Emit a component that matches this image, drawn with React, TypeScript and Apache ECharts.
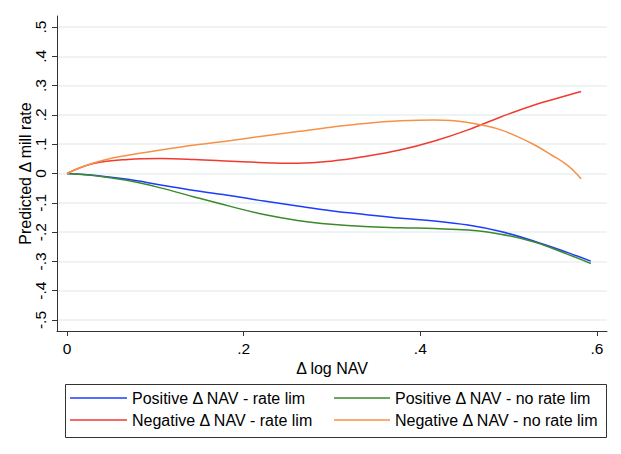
import React, { useEffect, useRef } from "react";
import * as echarts from "echarts";

// Predicted change in mill rate against change in log NAV
const posRateLimX = [0, 0.03, 0.069, 0.106, 0.144, 0.186, 0.223, 0.261, 0.299, 0.337, 0.378, 0.416, 0.454, 0.491, 0.529, 0.567, 0.593];
const posRateLimY = [0, -0.006, -0.02, -0.039, -0.058, -0.076, -0.094, -0.111, -0.127, -0.14, -0.153, -0.162, -0.176, -0.198, -0.231, -0.27, -0.299];

const posNoLimX = [0, 0.03, 0.069, 0.106, 0.144, 0.186, 0.223, 0.261, 0.299, 0.337, 0.378, 0.416, 0.454, 0.491, 0.529, 0.567, 0.593];
const posNoLimY = [0, -0.007, -0.024, -0.049, -0.08, -0.113, -0.14, -0.16, -0.173, -0.181, -0.185, -0.188, -0.193, -0.207, -0.234, -0.276, -0.307];

const negRateLimX = [0, 0.03, 0.069, 0.106, 0.144, 0.186, 0.223, 0.261, 0.299, 0.337, 0.378, 0.416, 0.454, 0.491, 0.529, 0.567, 0.582];
const negRateLimY = [0, 0.034, 0.048, 0.051, 0.048, 0.042, 0.037, 0.035, 0.042, 0.058, 0.081, 0.111, 0.149, 0.193, 0.234, 0.267, 0.28];

const negNoLimX = [0, 0.03, 0.069, 0.106, 0.144, 0.186, 0.223, 0.261, 0.299, 0.337, 0.378, 0.416, 0.435, 0.454, 0.472, 0.491, 0.51, 0.529, 0.548, 0.567, 0.582];
const negNoLimY = [0, 0.036, 0.0625, 0.08, 0.097, 0.113, 0.128, 0.143, 0.158, 0.171, 0.18, 0.183, 0.181, 0.174, 0.164, 0.149, 0.126, 0.098, 0.064, 0.027, -0.018];

const seriesNames = [
  "Positive Δ NAV - rate lim",
  "Positive Δ NAV - no rate lim",
  "Negative Δ NAV - rate lim",
  "Negative Δ NAV - no rate lim",
];
const seriesColors = ["#1c3cff", "#3a8a2c", "#f03a30", "#f5924a"];

const xTicks = [0, 0.2, 0.4, 0.6];
const yTicks = [-0.5, -0.4, -0.3, -0.2, -0.1, 0, 0.1, 0.2, 0.3, 0.4, 0.5];

const FONT = "'Liberation Sans', Arial, Helvetica, sans-serif";

const zip = (xs: number[], ys: number[]) => xs.map((x, i) => [x, ys[i]]);

// Stata-style labels: drop the leading zero
const fmt = (v: number) => {
  const r = Math.round(v * 10) / 10;
  if (r === 0) return "0";
  return String(r).replace("0.", ".");
};

export default function App() {
  const ref = useRef<HTMLDivElement>(null);

  useEffect(() => {
    if (!ref.current) return;
    const chart = echarts.init(ref.current, null, { renderer: "svg" });
    const data = [
      zip(posRateLimX, posRateLimY),
      zip(posNoLimX, posNoLimY),
      zip(negRateLimX, negRateLimY),
      zip(negNoLimX, negNoLimY),
    ];
    const axisText = { color: "#000", fontSize: 15.5, fontFamily: FONT };
    const titleText = { color: "#000", fontSize: 16, fontFamily: FONT };
    const legendBase = {
      orient: "vertical",
      top: 390,
      padding: 0,
      icon: "rect",
      itemHeight: 1.5,
      itemGap: 6,
      textStyle: { color: "#000", fontSize: 16, fontFamily: FONT },
    };
    chart.setOption({
      animation: false,
      backgroundColor: "#fff",
      textStyle: { fontFamily: FONT },
      grid: { left: 57, top: 16, width: 550, height: 315, containLabel: false },
      xAxis: {
        type: "value",
        min: -0.0113,
        max: 0.6113,
        name: "Δ log NAV",
        nameLocation: "middle",
        nameGap: 29,
        nameMoveOverlap: false,
        nameTextStyle: titleText,
        axisLine: { show: true, onZero: false, lineStyle: { color: "#333", width: 1 } },
        axisTick: { show: true, length: 5, customValues: xTicks, lineStyle: { color: "#333" } },
        axisLabel: { ...axisText, margin: 9, customValues: xTicks, formatter: fmt },
        splitLine: { show: false },
      },
      yAxis: {
        type: "value",
        min: -0.5375,
        max: 0.5375,
        name: "Predicted Δ mill rate",
        nameLocation: "middle",
        nameGap: 24,
        nameRotate: 90,
        nameMoveOverlap: false,
        nameTextStyle: titleText,
        axisLine: { show: true, onZero: false, lineStyle: { color: "#333", width: 1 } },
        axisTick: { show: true, length: 5, customValues: yTicks, lineStyle: { color: "#333" } },
        axisLabel: { ...axisText, rotate: 90, margin: 9, customValues: yTicks, formatter: fmt },
        splitLine: { show: true, lineStyle: { color: "#e8eff1", width: 1.5 } },
      },
      legend: [
        { ...legendBase, left: 70, itemWidth: 57, data: [seriesNames[0], seriesNames[2]] },
        { ...legendBase, left: 334, itemWidth: 56, data: [seriesNames[1], seriesNames[3]] },
      ],
      graphic: [
        {
          type: "rect",
          left: 63,
          top: 382,
          shape: { width: 541, height: 53 },
          style: { fill: "none", stroke: "#333", lineWidth: 1 },
          silent: true,
        },
      ],
      series: data.map((d, i) => ({
        type: "line",
        name: seriesNames[i],
        data: d,
        smooth: 0.4,
        symbol: "none",
        color: seriesColors[i],
        lineStyle: { width: 1.5, color: seriesColors[i] },
      })),
    });
    return () => chart.dispose();
  }, []);

  return (
    <div
      ref={ref}
      style={{ position: "fixed", left: 0, top: 0, width: 621, height: 454, background: "#fff" }}
    />
  );
}
